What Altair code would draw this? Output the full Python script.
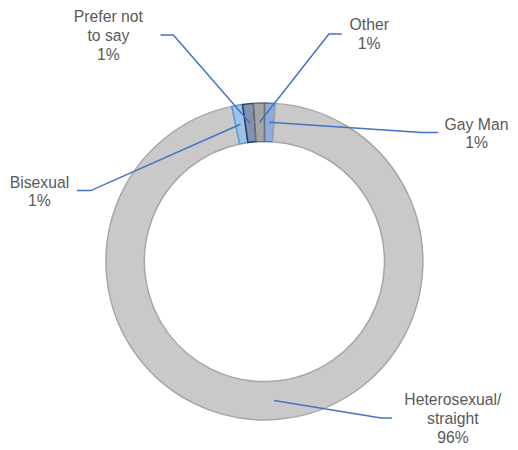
import altair as alt
import pandas as pd
import math

# ---- data ----
categories = ["Gay Man", "Heterosexual/straight", "Bisexual", "Prefer not to say", "Other"]
values = [1.1, 95.6, 1.1, 1.1, 1.1]
label_texts = ["Gay Man\n1%", "Heterosexual/\nstraight\n96%", "Bisexual\n1%", "Prefer not\nto say\n1%", "Other\n1%"]

# ---- styling ----
fills = ["#8faadc", "#c9c9c9", "#9dc3e6", "#8391b0", "#a5a5a5"]
strokes = ["#4472c4", "#a6a6a6", "#5b9bd5", "#1f3864", "#6f6f6f"]

# ---- layout (page pixel coordinates) ----
W, H, M = 518, 450, 8
CX, CY = 268.5, 262.0
R_OUT, R_IN = 161, 122
R_MID = (R_OUT + R_IN) / 2
# label anchor (top-centre of text block), leader elbow, leader end
label_pos = {
    "Gay Man": ((484, 115), (428, 131), (445, 131)),
    "Heterosexual/straight": ((460, 395), (387, 421), (398, 421)),
    "Bisexual": ((40, 174), (92, 190), (78, 190)),
    "Prefer not to say": ((110, 6), (176, 32), (163, 32)),
    "Other": ((375, 14), (334, 31), (347, 31)),
}

df = pd.DataFrame({"category": categories, "value": values, "order": range(len(categories))})

# leader lines from slice mid-angle at mid-ring radius
total = sum(values)
rows_lines, rows_text = [], []
cum = 0.0
for cat, v, txt in zip(categories, values, label_texts):
    mid = (cum + v / 2) / total * 2 * math.pi
    cum += v
    sx = CX + R_MID * math.sin(mid)
    sy = CY - R_MID * math.cos(mid)
    (tx, ty), (ex, ey), (lx, ly) = label_pos[cat]
    for i, (px, py) in enumerate([(sx, sy), (ex, ey), (lx, ly)]):
        rows_lines.append({"category": cat, "i": i, "px": px, "py": py})
    rows_text.append({"category": cat, "px": tx, "py": ty, "label": txt})

lines_df = pd.DataFrame(rows_lines)
text_df = pd.DataFrame(rows_text)

xs = alt.Scale(domain=[M, W], range=[0, W - M])
ys = alt.Scale(domain=[M, H], range=[0, H - M])

arc = alt.Chart(df).mark_arc(strokeWidth=1.5).encode(
    theta=alt.Theta("value:Q", stack=True),
    order=alt.Order("order:Q"),
    color=alt.Color("category:N", scale=alt.Scale(domain=categories, range=fills), legend=None),
    stroke=alt.Stroke("category:N", scale=alt.Scale(domain=categories, range=strokes), legend=None),
    x=alt.value(CX - M),
    y=alt.value(CY - M),
    radius=alt.value(R_OUT),
    radius2=alt.value(R_IN),
)

leaders = alt.Chart(lines_df).mark_line(color="#4472c4", strokeWidth=1.5).encode(
    x=alt.X("px:Q", scale=xs, axis=None),
    y=alt.Y("py:Q", scale=ys, axis=None),
    detail="category:N",
    order="i:Q",
)

texts = alt.Chart(text_df).mark_text(
    font="Liberation Sans", fontSize=16, color="#595959", align="center",
    baseline="top", lineBreak="\n", lineHeight=19,
).encode(
    x=alt.X("px:Q", scale=xs, axis=None),
    y=alt.Y("py:Q", scale=ys, axis=None),
    text="label:N",
)

chart = alt.layer(arc, leaders, texts).properties(
    width=W - 2 * M + M, height=H - 2 * M + M, padding=0,
    autosize=alt.AutoSizeParams(type="none"),
).configure_view(stroke=None)

chart.save("out.html", embed_options={"renderer": "svg", "actions": False})
